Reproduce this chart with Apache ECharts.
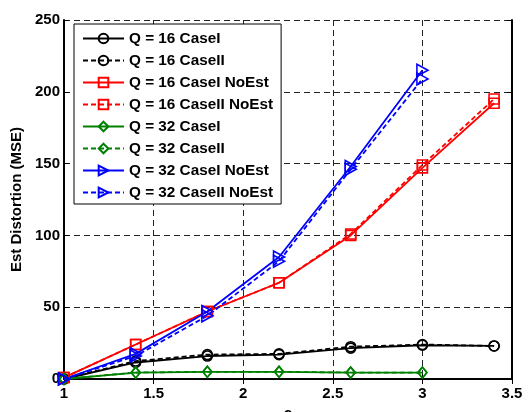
<!DOCTYPE html>
<html>
<head>
<meta charset="utf-8">
<script src="https://cdn.jsdelivr.net/npm/echarts@6/dist/echarts.min.js"></script>
<style>html,body{margin:0;padding:0;background:#fff}#c{width:530px;height:412px}</style>
</head>
<body>
<div id="c"></div>
<script>
const xVals = [1, 1.4, 1.8, 2.2, 2.6, 3.0, 3.4];
const q16CaseI = [0, 11.5, 16, 17, 21.5, 23.5, 23];
const q16CaseII = [0, 12.5, 17, 17.5, 22.5, 24, 23];
const q16CaseINoEst = [1, 24, 47, 67, 100, 147, 192];
const q16CaseIINoEst = [1, 24, 47, 67, 101, 149, 195];
const q32CaseI = [0, 4.5, 5, 5, 4.5, 4.5];
const q32CaseII = [0, 4.5, 5, 5, 4.5, 4.5];
const q32CaseINoEst = [0, 17.5, 47, 85, 148, 215];
const q32CaseIINoEst = [0, 16, 44, 82, 146, 209];
const seriesNames = ['Q = 16 CaseI','Q = 16 CaseII','Q = 16 CaseI NoEst','Q = 16 CaseII NoEst','Q = 32 CaseI','Q = 32 CaseII','Q = 32 CaseI NoEst','Q = 32 CaseII NoEst'];
const yTicks = [0, 50, 100, 150, 200, 250];
const xTicks = [1, 1.5, 2, 2.5, 3, 3.5];

const FONT = "'Liberation Sans', Arial, sans-serif";
const tri = 'path://M0,0 L10,6 L0,12 Z';
function pairs(ys){ return ys.map((y,i)=>[xVals[i], y]); }
function mk(name, ys, color, dashed, symbol, size){
  return {
    name, type:'line', data: pairs(ys), symbol, symbolSize: size,
    itemStyle:{color:'rgba(255,255,255,0)', borderColor:color, borderWidth:1.6, opacity:1},
    lineStyle:{color, width:1.8, type: dashed ? [5,3] : 'solid'},
    emphasis:{disabled:true}, animation:false
  };
}
const BLACK='#000', RED='#ff0000', GREEN='#008000', BLUE='#0000ff';
const series = [
  mk(seriesNames[0], q16CaseI, BLACK, false, 'circle', 10),
  mk(seriesNames[1], q16CaseII, BLACK, true, 'circle', 10),
  mk(seriesNames[2], q16CaseINoEst, RED, false, 'rect', 10),
  mk(seriesNames[3], q16CaseIINoEst, RED, true, 'rect', 10),
  mk(seriesNames[4], q32CaseI, GREEN, false, 'diamond', [9,11]),
  mk(seriesNames[5], q32CaseII, GREEN, true, 'diamond', [9,11]),
  mk(seriesNames[6], q32CaseINoEst, BLUE, false, tri, [11,12]),
  mk(seriesNames[7], q32CaseIINoEst, BLUE, true, tri, [11,12])
];

const axisLine = {show:true, lineStyle:{color:'#000', width:2}};
const tickIn = {show:true, inside:true, length:5, lineStyle:{color:'#000', width:1}};
const lbl = {color:'#000', fontFamily:FONT, fontWeight:'bold', fontSize:15};
const split = {show:true, lineStyle:{color:'#222', width:1, type:[6,4]}};

const chart = echarts.init(document.getElementById('c'), null, {renderer:'canvas'});
chart.setOption({
  backgroundColor:'#fff',
  animation:false,
  grid:{left:64, right:18, top:20, bottom:33, containLabel:false, outerBoundsMode:'none'},
  legend:{
    data: seriesNames, orient:'vertical', left:74, top:24,
    itemWidth:41, itemHeight:12, itemGap:7,
    padding:[7,8,4,8],
    backgroundColor:'#fff', borderColor:'#000', borderWidth:1,
    textStyle:{color:'#000', fontFamily:FONT, fontWeight:'bold', fontSize:15.3},
    selectedMode:false
  },
  xAxis:[{
    type:'value', min:1, max:3.5, interval:0.5,
    axisLine, axisTick:tickIn, splitLine:split,
    axisLabel:Object.assign({margin:7, formatter:v=>String(v)}, lbl),
    name:'c', nameLocation:'middle', nameGap:22,
    nameTextStyle:{color:'#000', fontFamily:FONT, fontWeight:'bold', fontSize:15}
  },{
    type:'value', position:'top', min:1, max:3.5, interval:0.5,
    axisLine, axisTick:tickIn, splitLine:{show:false}, axisLabel:{show:false}
  }],
  yAxis:[{
    type:'value', min:0, max:250, interval:50,
    axisLine, axisTick:tickIn, splitLine:split,
    axisLabel:Object.assign({margin:4}, lbl),
    name:'Est Distortion (MSE)', nameLocation:'middle', nameGap:36,
    nameTextStyle:{color:'#000', fontFamily:FONT, fontWeight:'bold', fontSize:15}
  },{
    type:'value', position:'right', min:0, max:250, interval:50,
    axisLine, axisTick:tickIn, splitLine:{show:false}, axisLabel:{show:false}
  }],
  series
});
</script>
</body>
</html>
